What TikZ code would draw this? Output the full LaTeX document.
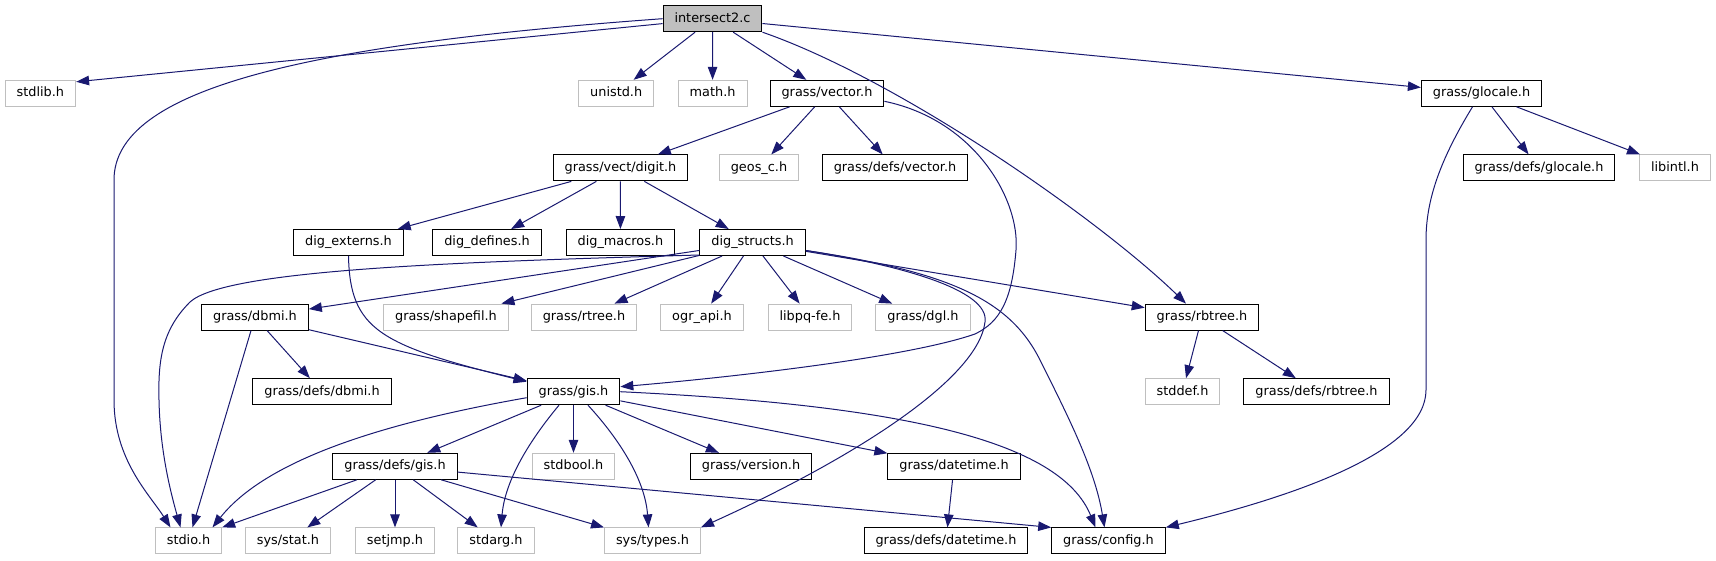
\documentclass[tikz,border=0pt]{standalone}
\usepackage{fontspec}
\setmainfont{DejaVu Sans}
\usetikzlibrary{arrows.meta}
\definecolor{edgeblue}{RGB}{25,25,112}
\definecolor{greyb}{RGB}{191,191,191}
\begin{document}
\begin{tikzpicture}[x=1pt,y=-1pt,
  box/.style={rectangle, line width=1pt, inner xsep=11.5pt, inner ysep=0pt, minimum height=26pt, text height=9.6pt, text depth=3pt, font=\fontsize{12.85pt}{15pt}\selectfont},
  doc/.style={box, draw=black, fill=white},
  undoc/.style={box, draw=greyb, fill=white},
  mainnode/.style={box, draw=black, fill=greyb},
  conn/.style={draw=edgeblue, line width=1pt, -{Triangle[length=13pt,width=9.5pt]}}]
\useasboundingbox (0,0) rectangle (1716,560);
% row 0
\node[mainnode] (i) at (712.5,18.7) {intersect2.c};
% row 1
\node[undoc] (stdlib) at (40.4,93.3) {stdlib.h};
\node[undoc] (unistd) at (616.2,93.3) {unistd.h};
\node[undoc] (math) at (712.6,93.3) {math.h};
\node[doc] (vec) at (827,93.3) {grass/vector.h};
\node[doc] (gloc) at (1481.5,93.3) {grass/glocale.h};
% row 2
\node[doc] (digit) at (620.5,167.9) {grass/vect/digit.h};
\node[undoc] (geos) at (759,167.9) {geos\_c.h};
\node[doc] (dvec) at (895,167.9) {grass/defs/vector.h};
\node[doc] (dgloc) at (1539,167.9) {grass/defs/glocale.h};
\node[undoc] (libintl) at (1675,167.9) {libintl.h};
% row 3
\node[doc] (ext) at (348.5,242.5) {dig\_externs.h};
\node[doc] (def) at (487,242.5) {dig\_defines.h};
\node[doc] (mac) at (620.4,242.5) {dig\_macros.h};
\node[doc] (ds) at (752.6,242.5) {dig\_structs.h};
% row 4
\node[doc] (dbmi) at (255,317.1) {grass/dbmi.h};
\node[undoc] (shp) at (446,317.1) {grass/shapefil.h};
\node[undoc] (rtree) at (584,317.1) {grass/rtree.h};
\node[undoc] (ogr) at (702,317.1) {ogr\_api.h};
\node[undoc] (libpq) at (810,317.1) {libpq-fe.h};
\node[undoc] (dgl) at (923,317.1) {grass/dgl.h};
\node[doc] (rbt) at (1202,317.1) {grass/rbtree.h};
% row 5
\node[doc] (ddbmi) at (322,391.7) {grass/defs/dbmi.h};
\node[doc] (gis) at (573.5,391.7) {grass/gis.h};
\node[undoc] (stddef) at (1182.5,391.7) {stddef.h};
\node[doc] (drbt) at (1316.5,391.7) {grass/defs/rbtree.h};
% row 6
\node[doc] (dgis) at (395,466.3) {grass/defs/gis.h};
\node[undoc] (stdbool) at (573.5,466.3) {stdbool.h};
\node[doc] (ver) at (751,466.3) {grass/version.h};
\node[doc] (dt) at (954,466.3) {grass/datetime.h};
% row 7
\node[undoc] (stdio) at (188.5,540.9) {stdio.h};
\node[undoc] (stat) at (288,540.9) {sys/stat.h};
\node[undoc] (setjmp) at (395,540.9) {setjmp.h};
\node[undoc] (stdarg) at (496,540.9) {stdarg.h};
\node[undoc] (types) at (652.5,540.9) {sys/types.h};
\node[doc] (ddt) at (946,540.9) {grass/defs/datetime.h};
\node[doc] (config) at (1108.5,540.9) {grass/config.h};
% edges from intersect2.c
\draw[conn] (i) -- ([yshift=-2pt]stdlib.north east);
\draw[conn] (i.west) .. controls (300,45) and (114,90) .. (114,180) -- (114,400) .. controls (114,460) and (150,495) .. ([xshift=-18pt]stdio.north);
\draw[conn] (i) -- (unistd);
\draw[conn] (i) -- (math);
\draw[conn] (i) -- (vec);
\draw[conn] (i.south east) .. controls (900,80) and (1100,220) .. ([xshift=-16pt]rbt.north);
\draw[conn] (i) -- (gloc);
% grass/vector.h
\draw[conn] (vec) -- (digit);
\draw[conn] (vec) -- (geos);
\draw[conn] (vec) -- (dvec);
\draw[conn] ([yshift=-8pt]vec.east) .. controls (975,120) and (1020,200) .. (1016,250) .. controls (1012,300) and (1000,322) .. (975,334) .. controls (900,360) and (700,380) .. ([yshift=5pt]gis.east);
% grass/glocale.h
\draw[conn] (gloc) -- (dgloc);
\draw[conn] (gloc) -- (libintl);
\draw[conn] ([xshift=-9pt]gloc.south) .. controls (1440,160) and (1426,200) .. (1426,240) -- (1426,390) .. controls (1426,450) and (1300,495) .. (config.north east);
% grass/vect/digit.h
\draw[conn] (digit) -- (ext);
\draw[conn] (digit) -- (def);
\draw[conn] (digit) -- (mac);
\draw[conn] (digit) -- (ds);
% dig_externs.h
\draw[conn] (ext.south) .. controls (350,330) and (380,345) .. ([yshift=10pt]gis.west);
% dig_structs.h
\draw[conn] ([yshift=1pt]ds.south west) .. controls (450,262) and (225,270) .. (190,302) .. controls (162,330) and (158,360) .. (159,400) .. controls (160,450) and (170,490) .. ([xshift=-8pt]stdio.north);
\draw[conn] (ds) -- (dbmi);
\draw[conn] (ds) -- (shp);
\draw[conn] (ds) -- (rtree);
\draw[conn] (ds) -- (ogr);
\draw[conn] (ds) -- (libpq);
\draw[conn] (ds) -- (dgl);
\draw[conn] (ds) -- (rbt);
\draw[conn] ([yshift=-8pt]ds.east) .. controls (900,265) and (990,290) .. (985,322) .. controls (978,380) and (850,460) .. (types.north east);
\draw[conn] ([yshift=-8pt]ds.east) .. controls (950,272) and (1010,300) .. (1040,360) .. controls (1070,420) and (1095,470) .. ([xshift=-4pt]config.north);
% grass/dbmi.h
\draw[conn] (dbmi) -- (stdio);
\draw[conn] (dbmi) -- (ddbmi);
\draw[conn] (dbmi) -- (gis);
% grass/rbtree.h
\draw[conn] (rbt) -- (stddef);
\draw[conn] (rbt) -- (drbt);
% grass/gis.h
\draw[conn] ([yshift=-6pt]gis.west) .. controls (400,420) and (270,455) .. ([xshift=24pt]stdio.north);
\draw[conn] (gis) -- (dgis);
\draw[conn] ([xshift=-14.5pt]gis.south) .. controls (530,440) and (505,480) .. ([xshift=5pt]stdarg.north);
\draw[conn] (gis) -- (stdbool);
\draw[conn] ([xshift=14.5pt]gis.south) .. controls (620,440) and (645,480) .. ([xshift=-4pt]types.north);
\draw[conn] (gis) -- (ver);
\draw[conn] (gis) -- (dt);
\draw[conn] (gis.east) .. controls (900,405) and (1060,440) .. ([xshift=-13pt]config.north);
% grass/defs/gis.h
\draw[conn] (dgis) -- (stdio.north east);
\draw[conn] (dgis) -- (stat);
\draw[conn] (dgis) -- (setjmp);
\draw[conn] (dgis) -- (stdarg);
\draw[conn] (dgis) -- (types.north west);
\draw[conn] (dgis) -- (config.north west);
% grass/datetime.h
\draw[conn] (dt) -- (ddt);
\end{tikzpicture}
\end{document}
